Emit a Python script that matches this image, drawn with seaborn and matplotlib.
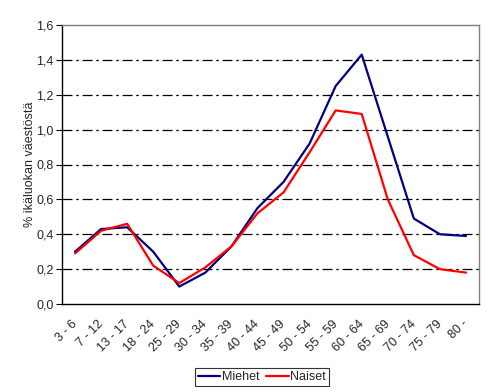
import matplotlib
matplotlib.use("Agg")
import matplotlib.pyplot as plt
import matplotlib.transforms as mtransforms
import seaborn as sns
import pandas as pd
import numpy as np

categories = ["3 - 6", "7 - 12", "13 - 17", "18 - 24", "25 - 29", "30 - 34", "35 - 39",
              "40 - 44", "45 - 49", "50 - 54", "55 - 59", "60 - 64", "65 - 69",
              "70 - 74", "75 - 79", "80 -"]
miehet = [0.30, 0.43, 0.44, 0.30, 0.10, 0.18, 0.33, 0.55, 0.70, 0.92, 1.25, 1.43, 0.96, 0.49, 0.40, 0.39]
naiset = [0.29, 0.42, 0.46, 0.22, 0.12, 0.21, 0.33, 0.52, 0.64, 0.87, 1.11, 1.09, 0.60, 0.28, 0.20, 0.18]
yticks = [0.0, 0.2, 0.4, 0.6, 0.8, 1.0, 1.2, 1.4, 1.6]

sns.set_style("white")
plt.rcParams['font.family'] = ['Liberation Sans', 'DejaVu Sans']

n = len(categories)
df = pd.DataFrame({
    "pos": list(np.arange(n)) * 2,
    "value": miehet + naiset,
    "series": ["Miehet"] * n + ["Naiset"] * n,
})

fig = plt.figure(figsize=(4.94, 3.92), dpi=100)
ax = fig.add_axes([62/494, 1 - 304/392, (479-62)/494, (304-25)/392])

sns.lineplot(data=df, x="pos", y="value", hue="series",
             palette={"Miehet": "#000080", "Naiset": "#FF0000"},
             linewidth=1.6, ax=ax, legend=False)

ax.set_xlim(-0.5, n - 0.5)
ax.set_ylim(0, 1.6)
ax.set_yticks(yticks)
ax.set_yticklabels([f"{v:.1f}".replace(".", ",") for v in yticks], fontsize=9)
ax.set_xticks(np.arange(n))
ax.set_xticklabels(categories, rotation=45, ha="right", rotation_mode="anchor", fontsize=9)
ax.tick_params(axis="x", length=0, pad=10)
offset = mtransforms.ScaledTranslation(-4/100, 0, fig.dpi_scale_trans)
for lbl in ax.get_xticklabels():
    lbl.set_transform(lbl.get_transform() + offset)
ax.set_xticks(np.arange(n + 1) - 0.5, minor=True)
ax.tick_params(axis="x", which="minor", length=4, width=0.8, color="black", direction="out")
ax.tick_params(axis="y", length=4, width=0.8, color="black", direction="out", left=True, pad=2)
ax.set_xlabel("")
ax.set_ylabel("% ikäluokan väestöstä", fontsize=9, labelpad=0)

for v in yticks[1:-1]:
    ax.axhline(v, color="black", linewidth=0.9, linestyle=(0, (8, 3, 2, 3)), zorder=0)

for side in ["left", "bottom"]:
    ax.spines[side].set_color("black")
    ax.spines[side].set_linewidth(1.0)
for side in ["top", "right"]:
    ax.spines[side].set_color("#808080")
    ax.spines[side].set_linewidth(1.0)
    ax.spines[side].set_visible(True)

from matplotlib.lines import Line2D
handles = [Line2D([], [], color="#000080", linewidth=1.6),
           Line2D([], [], color="#FF0000", linewidth=1.6)]
leg = fig.legend(handles, ["Miehet", "Naiset"], loc="center", ncol=2,
                 bbox_to_anchor=(262/494, 1 - 377/392), fontsize=9,
                 frameon=True, fancybox=False, edgecolor="black",
                 handlelength=1.8, handletextpad=0.15, columnspacing=0.5,
                 borderpad=0.25, borderaxespad=0)
leg.get_frame().set_linewidth(0.8)

fig.savefig("out.png", dpi=100)
